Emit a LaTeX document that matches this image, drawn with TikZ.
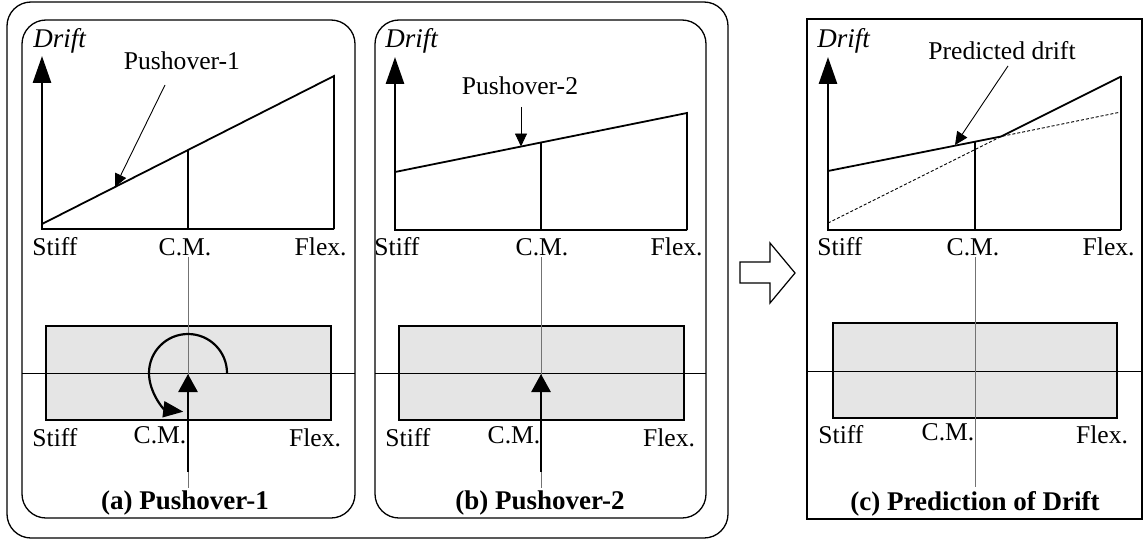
\documentclass[tikz,border=0pt]{standalone}
\usepackage{fontspec}
\setmainfont{Liberation Serif}
\usetikzlibrary{arrows.meta}

\tikzset{
  frame/.style={line width=0.65pt,rounded corners=12pt},
  axis/.style={line width=1.4pt,-{Triangle[length=13.5pt,width=9pt]}},
  driftline/.style={line width=0.9pt},
  cmline/.style={line width=0.75pt},
  predline/.style={line width=0.45pt,dash pattern=on 1.5pt off 1pt},
  pointer/.style={line width=0.45pt,-{Triangle[length=6.5pt,width=6pt]}},
  sheet/.style={draw,fill=black!10,line width=0.65pt},
  midline/.style={line width=0.5pt},
  refline/.style={black!55,line width=0.5pt},
  turn/.style={line width=1.1pt,-{Triangle[length=10pt,width=8pt]}},
  force/.style={line width=1.4pt,-{Triangle[length=9pt,width=9.5pt]}},
  txt/.style={font=\fontsize{12.8}{15}\selectfont,inner sep=0pt},
  ttl/.style={font=\fontsize{13.5}{16}\selectfont\itshape,inner sep=0pt},
  captxt/.style={font=\fontsize{13.5}{16}\selectfont\bfseries,inner sep=0pt}
}

\begin{document}
\begin{tikzpicture}[x=0.5pt,y=-0.5pt]
    \useasboundingbox (0,0) rectangle (1144,540);

    % frames
    \draw[frame] (7,2) rectangle (728,538);
    \draw[frame] (22,20) rectangle (355,518);
    \draw[frame] (375,20) rectangle (706,518);
    \draw[line width=0.65pt] (807,19) rectangle (1142,519);

    % (a) Pushover-1
    \coordinate (a-o) at (42,229);
    \coordinate (a-y) at (42,56);
    \coordinate (a-x) at (334,229);
    \coordinate (a-l) at (42,224);
    \coordinate (a-r) at (334,76);
    \coordinate (a-m) at (188,150);
    \coordinate (a-mb) at (188,229);

    \draw[axis] (a-x) -- (a-o) -- (a-y);
    \draw[driftline] (a-l) -- (a-r) -- (a-x);
    \draw[cmline] (a-m) -- (a-mb);

    \node[ttl,anchor=base west] (a-drift) at (33,48) {Drift};
    \node[txt,anchor=base] (a-push) at (182,70) {Pushover-1};
    \coordinate (a-ps) at (165,85);
    \coordinate (a-pt) at (115,187);
    \draw[pointer] (a-ps) -- (a-pt);
    \node[txt,anchor=base west] (a-stiff) at (32,255) {Stiff};
    \node[txt,anchor=base] (a-cm) at (185,255) {C.M.};
    \node[txt,anchor=base east] (a-flex) at (347,255) {Flex.};

    \draw[sheet] (46,326) rectangle (331,420);
    \coordinate (a-hl) at (22,373);
    \coordinate (a-hr) at (355,373);
    \coordinate (a-vt) at (188,257);
    \coordinate (a-vb) at (188,488);
    \draw[midline] (a-hl) -- (a-hr);
    \draw[refline] (a-vt) -- (a-vb);

    \coordinate (a-rs) at (227,373);
    \draw[turn] (a-rs) arc[start angle=0,end angle=263,radius=19.5pt];
    \coordinate (a-f) at (188,472);
    \coordinate (a-c) at (188,374);
    \draw[force] (a-f) -- (a-c);

    \node[txt,anchor=base west] (a-stiff2) at (32,446) {Stiff};
    \node[txt,anchor=base] (a-cm2) at (160,443) {C.M.};
    \node[txt,anchor=base] (a-flex2) at (315,446) {Flex.};
    \node[captxt,anchor=base] (a-cap) at (185,509) {(a) Pushover-1};

    % (b) Pushover-2
    \coordinate (b-o) at (395,230);
    \coordinate (b-y) at (395,57);
    \coordinate (b-x) at (687,230);
    \coordinate (b-l) at (395,172);
    \coordinate (b-r) at (687,113);
    \coordinate (b-m) at (541,142.5);
    \coordinate (b-mb) at (541,230);

    \draw[axis] (b-x) -- (b-o) -- (b-y);
    \draw[driftline] (b-l) -- (b-r) -- (b-x);
    \draw[cmline] (b-m) -- (b-mb);

    \node[ttl,anchor=base west] (b-drift) at (385,48) {Drift};
    \node[txt,anchor=base] (b-push) at (520,95) {Pushover-2};
    \coordinate (b-ps) at (521,107);
    \coordinate (b-pt) at (521,146.5);
    \draw[pointer] (b-ps) -- (b-pt);
    \node[txt,anchor=base west] (b-stiff) at (374,255) {Stiff};
    \node[txt,anchor=base] (b-cm) at (542,255) {C.M.};
    \node[txt,anchor=base east] (b-flex) at (703,255) {Flex.};

    \draw[sheet] (399,326) rectangle (684,420);
    \coordinate (b-hl) at (375,373);
    \coordinate (b-hr) at (706,373);
    \coordinate (b-vt) at (541,257);
    \coordinate (b-vb) at (541,488);
    \draw[midline] (b-hl) -- (b-hr);
    \draw[refline] (b-vt) -- (b-vb);

    \coordinate (b-f) at (541,472);
    \coordinate (b-c) at (541,374);
    \draw[force] (b-f) -- (b-c);

    \node[txt,anchor=base west] (b-stiff2) at (385,446) {Stiff};
    \node[txt,anchor=base] (b-cm2) at (514,443) {C.M.};
    \node[txt,anchor=base] (b-flex2) at (669,446) {Flex.};
    \node[captxt,anchor=base] (b-cap) at (540,509) {(b) Pushover-2};

    % block arrow
    \draw[line width=0.6pt] (740,262) -- (770,262) -- (770,243) -- (795,273)
        -- (770,303) -- (770,283) -- (740,283) -- cycle;

    % (c) Prediction of Drift
    \coordinate (c-o) at (828,230);
    \coordinate (c-y) at (828,57);
    \coordinate (c-x) at (1121,230);
    \coordinate (c-l1) at (828,223);
    \coordinate (c-r1) at (1121,76.5);
    \coordinate (c-l2) at (828,171);
    \coordinate (c-r2) at (1121,112);
    \coordinate (c-k) at (1001,136.5);
    \coordinate (c-m) at (975,141.6);
    \coordinate (c-mb) at (975,230);

    \draw[axis] (c-x) -- (c-o) -- (c-y);
    \draw[predline] (c-l1) -- (c-k) -- (c-r2);
    \draw[line width=0.75pt] (c-r1) -- (c-x);
    \draw[driftline] (c-l2) -- (c-k) -- (c-r1);
    \draw[cmline] (c-m) -- (c-mb);

    \node[ttl,anchor=base west] (c-drift) at (817,48) {Drift};
    \node[txt,anchor=base] (c-pred) at (1002,60) {Predicted drift};
    \coordinate (c-ps) at (1008,66);
    \coordinate (c-pt) at (955,145);
    \draw[pointer] (c-ps) -- (c-pt);
    \node[txt,anchor=base west] (c-stiff) at (817,255) {Stiff};
    \node[txt,anchor=base] (c-cm) at (973,255) {C.M.};
    \node[txt,anchor=base east] (c-flex) at (1135,255) {Flex.};

    \draw[sheet] (833,323) rectangle (1117,418);
    \coordinate (c-hl) at (807,371);
    \coordinate (c-hr) at (1142,371);
    \coordinate (c-vt) at (975,257);
    \coordinate (c-vb) at (975,487);
    \draw[midline] (c-hl) -- (c-hr);
    \draw[refline] (c-vt) -- (c-vb);

    \node[txt,anchor=base west] (c-stiff2) at (818,443) {Stiff};
    \node[txt,anchor=base] (c-cm2) at (948,440) {C.M.};
    \node[txt,anchor=base] (c-flex2) at (1102,443) {Flex.};
    \node[captxt,anchor=base] (c-cap) at (975,510) {(c) Prediction of Drift};
\end{tikzpicture}
\end{document}
